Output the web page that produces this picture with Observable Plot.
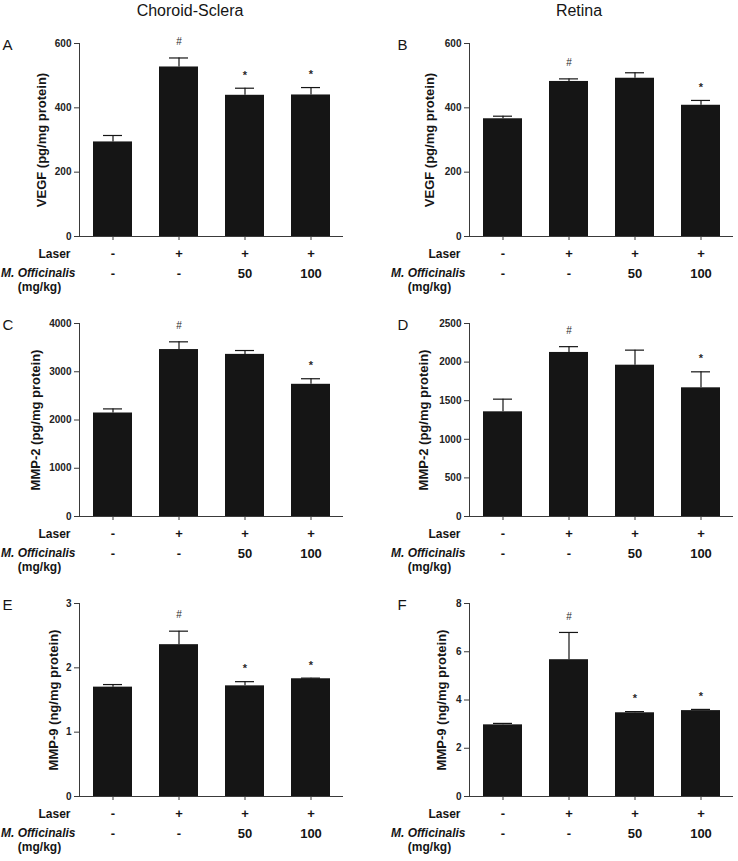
<!DOCTYPE html>
<html>
<head>
<meta charset="utf-8">
<script src="https://cdn.jsdelivr.net/npm/d3@7"></script>
<script src="https://cdn.jsdelivr.net/npm/@observablehq/plot@0.6"></script>
<style>
  body { margin: 0; background: #fff; }
  #figure { position: relative; width: 738px; height: 861px; font-family: "Liberation Sans", Arial, sans-serif; color: #151515; background: #fff; }
  .col-title { position: absolute; top: 2px; font-size: 16px; transform: translateX(-50%); white-space: nowrap; }
  .panel { position: absolute; }
</style>
</head>
<body>
<div id="figure">
  <div class="col-title" style="left:190px">Choroid-Sclera</div>
  <div class="col-title" style="left:579px">Retina</div>
</div>
<script>
// Treatment groups (x categories) and the two label rows printed under each bar
const groups = ["sham", "laser", "laser+50", "laser+100"];
const laserRow = ["-", "+", "+", "+"];
const doseRow = ["-", "-", "50", "100"];

// VEGF (pg/mg protein): mean and SEM
const vegfChoroid = [294, 527, 439, 440];
const vegfChoroidErr = [20, 28, 22, 23];
const vegfChoroidSig = ["", "#", "*", "*"];
const vegfRetina = [366, 482, 492, 408];
const vegfRetinaErr = [8, 8, 17, 15];
const vegfRetinaSig = ["", "#", "", "*"];
const vegfTicks = [0, 200, 400, 600];

// MMP-2 (pg/mg protein): mean and SEM
const mmp2Choroid = [2145, 3460, 3360, 2740];
const mmp2ChoroidErr = [85, 160, 80, 115];
const mmp2ChoroidSig = ["", "#", "", "*"];
const mmp2Retina = [1356, 2125, 1960, 1667];
const mmp2RetinaErr = [164, 75, 195, 207];
const mmp2RetinaSig = ["", "#", "", "*"];
const mmp2ChoroidTicks = [0, 1000, 2000, 3000, 4000];
const mmp2RetinaTicks = [0, 500, 1000, 1500, 2000, 2500];

// MMP-9 (ng/mg protein): mean and SEM
const mmp9Choroid = [1.70, 2.36, 1.72, 1.83];
const mmp9ChoroidErr = [0.04, 0.21, 0.065, 0.01];
const mmp9ChoroidSig = ["", "#", "*", "*"];
const mmp9Retina = [2.97, 5.67, 3.47, 3.56];
const mmp9RetinaErr = [0.06, 1.13, 0.05, 0.05];
const mmp9RetinaSig = ["", "#", "*", "*"];
const mmp9ChoroidTicks = [0, 1, 2, 3];
const mmp9RetinaTicks = [0, 2, 4, 6, 8];

const panels = [
  {letter: "A", col: 0, row: 0, label: "VEGF (pg/mg protein)", values: vegfChoroid, errors: vegfChoroidErr, sig: vegfChoroidSig, ticks: vegfTicks},
  {letter: "B", col: 1, row: 0, label: "VEGF (pg/mg protein)", values: vegfRetina, errors: vegfRetinaErr, sig: vegfRetinaSig, ticks: vegfTicks},
  {letter: "C", col: 0, row: 1, label: "MMP-2 (pg/mg protein)", values: mmp2Choroid, errors: mmp2ChoroidErr, sig: mmp2ChoroidSig, ticks: mmp2ChoroidTicks},
  {letter: "D", col: 1, row: 1, label: "MMP-2 (pg/mg protein)", values: mmp2Retina, errors: mmp2RetinaErr, sig: mmp2RetinaSig, ticks: mmp2RetinaTicks},
  {letter: "E", col: 0, row: 2, label: "MMP-9 (ng/mg protein)", values: mmp9Choroid, errors: mmp9ChoroidErr, sig: mmp9ChoroidSig, ticks: mmp9ChoroidTicks},
  {letter: "F", col: 1, row: 2, label: "MMP-9 (ng/mg protein)", values: mmp9Retina, errors: mmp9RetinaErr, sig: mmp9RetinaSig, ticks: mmp9RetinaTicks}
];

const ink = "#151515";
const axisInk = "#3a3a3a";
const figure = document.getElementById("figure");

for (const p of panels) {
  const rows = groups.map((g, i) => ({
    group: g,
    value: p.values[i],
    top: p.values[i] + p.errors[i],
    sig: p.sig[i],
    laser: laserRow[i],
    dose: doseRow[i]
  }));
  const marginLeft = p.col === 0 ? 79 : 100;
  const marginRight = p.col === 0 ? 26 : 5;
  const tickChars = Math.max(...p.ticks.map(t => String(t).length));
  const labelShift = -(20 + 6 * tickChars) - (p.col === 1 ? 2 : 0);

  const chart = Plot.plot({
    width: 369,
    height: 300,
    marginLeft,
    marginRight,
    marginTop: 43,
    marginBottom: 64,
    style: {background: "transparent", overflow: "visible", fontFamily: "'Liberation Sans', Arial, sans-serif", color: ink},
    x: {type: "band", domain: groups, paddingInner: 0.41, paddingOuter: 0.205},
    y: {domain: [0, p.ticks[p.ticks.length - 1]], nice: false},
    marks: [
      Plot.barY(rows, {x: "group", y: "value", fill: ink}),
      Plot.ruleX(rows, {x: "group", y1: "value", y2: "top", stroke: ink, strokeWidth: 1.2}),
      Plot.tickY(rows, {x: "group", y: "top", stroke: ink, strokeWidth: 1.2, insetLeft: 10, insetRight: 10}),
      Plot.text(rows.filter(d => d.sig === "#"), {x: "group", y: "top", text: "sig", dy: -16, fontSize: 10, fill: "#2a2a2a"}),
      Plot.text(rows.filter(d => d.sig === "*"), {x: "group", y: "top", text: "sig", dy: -13, fontSize: 11, fontWeight: "bold", fill: "#2a2a2a"}),
      Plot.frame({anchor: "left", stroke: axisInk}),
      Plot.ruleY([0], {stroke: axisInk}),
      Plot.axisY({ticks: p.ticks, tickFormat: d => `${d}`, tickSize: 5, tickPadding: 3, fontSize: 10, fontWeight: "bold", stroke: axisInk, fill: "#222", label: null}),
      Plot.axisX({tickSize: 4, tickFormat: () => "", stroke: axisInk, label: null}),
      Plot.text([p.label], {frameAnchor: "left", textAnchor: "middle", rotate: -90, dx: labelShift, fontSize: 13, fontWeight: "bold", fill: ink}),
      Plot.text([p.letter], {frameAnchor: "top-left", dx: p.col === 0 ? -77 : -72, dy: -4, textAnchor: "start", fontSize: 15, fill: ink}),
      // treatment table under the bars
      Plot.text(rows, {x: "group", text: "laser", frameAnchor: "bottom", dy: 21, fontSize: 13, fontWeight: "bold", fill: ink}),
      Plot.text(rows, {x: "group", text: "dose", frameAnchor: "bottom", dy: 41, fontSize: 13, fontWeight: "bold", fill: ink}),
      Plot.text(["Laser"], {frameAnchor: "bottom-left", dx: -9, dy: 21, textAnchor: "end", fontSize: 12, fontWeight: "bold", fill: ink}),
      Plot.text(["M. Officinalis"], {frameAnchor: "bottom-left", dx: -4, dy: 40, textAnchor: "end", fontSize: 12, fontWeight: "bold", fontStyle: "italic", fill: ink}),
      Plot.text(["(mg/kg)"], {frameAnchor: "bottom-left", dx: -40, dy: 54, textAnchor: "middle", fontSize: 12, fontWeight: "bold", fill: ink})
    ]
  });
  chart.classList.add("panel");
  chart.style.left = `${p.col * 369}px`;
  chart.style.top = `${p.row * 280}px`;
  chart.style.position = "absolute";
  figure.appendChild(chart);
}
</script>
</body>
</html>
